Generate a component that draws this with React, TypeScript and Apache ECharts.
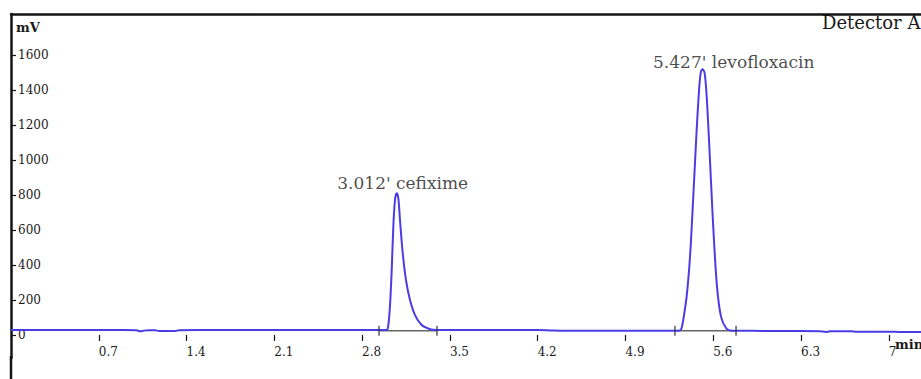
import React, { useEffect, useRef } from "react";
import * as echarts from "echarts";

// Chromatogram trace (retention time in min, detector signal in mV)
const TIME_MIN = [
  0, 0.3, 0.6, 0.9, 1.0, 1.03, 1.06, 1.1, 1.15, 1.18, 1.25, 1.31, 1.34, 1.5, 1.8, 2.1, 2.4, 2.7, 2.9, 2.996,
  3.008, 3.022, 3.036, 3.049, 3.062, 3.076, 3.089, 3.102, 3.124, 3.15, 3.182, 3.222, 3.275, 3.341, 3.395,
  3.6, 3.9, 4.2, 4.3, 4.4, 4.7, 4.95, 5.1, 5.3, 5.335,
  5.348, 5.361, 5.388, 5.415, 5.441, 5.468, 5.489, 5.502, 5.516, 5.532, 5.548, 5.569, 5.596, 5.628, 5.662, 5.707, 5.747,
  5.9, 6.1, 6.3, 6.45, 6.5, 6.53, 6.6, 6.7, 6.74, 6.8, 7.0, 7.1, 7.257,
];
const SIGNAL_MV = [
  28, 28, 28, 28, 27, 21, 25, 27, 27, 23, 23, 23, 27, 28, 28, 28, 28, 28, 28, 28,
  50, 162, 371, 619, 771, 810, 781, 657, 467, 314, 200, 114, 57, 33, 28,
  28, 28, 28, 26, 24, 24, 24, 25, 25, 26,
  40, 86, 219, 447, 790, 1171, 1419, 1505, 1518, 1495, 1362, 1076, 676, 295, 105, 35, 25,
  24, 23, 23, 22, 17, 21, 22, 22, 18, 19, 19, 17, 17,
];

const X_TICKS = [0.7, 1.4, 2.1, 2.8, 3.5, 4.2, 4.9, 5.6, 6.3, 7];
const Y_TICKS = [0, 200, 400, 600, 800, 1000, 1200, 1400, 1600];

// Peaks
const PEAK_NAMES = ["3.012' cefixime", "5.427' levofloxacin"];
const PEAK_TIMES = [3.076, 5.516];
const PEAK_HEIGHTS = [810, 1518];
const PEAK_LABEL_OFFSETS = [[6, 0], [31, 3]];

// Integration baselines
const INT_START_TIME = [2.935, 5.295];
const INT_END_TIME = [3.397, 5.782];
const INT_START_MV = [24, 25];
const INT_END_MV = [24, 24];

const SERIF = "DejaVu Serif";
const TRACE = "#4b3ce6";
const INK = "#141414";
const TEXT = "#1a1a1a";

export default function App() {
  const ref = useRef<HTMLDivElement>(null);

  useEffect(() => {
    if (!ref.current) return;
    const chart = echarts.init(ref.current, undefined, { renderer: "svg" });

    const trace = TIME_MIN.map((t, i) => [t, SIGNAL_MV[i]]);
    const intSeries = INT_START_TIME.map((s, i) => ({
      type: "line",
      data: [
        [s, INT_START_MV[i]],
        [INT_END_TIME[i], INT_END_MV[i]],
      ],
      symbol: "none",
      lineStyle: { color: "#666", width: 1.5 },
      z: 1,
    }));
    const markers: number[][] = [];
    INT_START_TIME.forEach((s, i) => {
      markers.push([s, INT_START_MV[i]]);
      markers.push([INT_END_TIME[i], INT_END_MV[i]]);
    });

    chart.setOption({
      animation: false,
      backgroundColor: "#ffffff",
      grid: { left: 11, right: 0, top: 14, bottom: 21, containLabel: false },
      xAxis: [
        {
          type: "value",
          min: 0,
          max: 7.257,
          position: "bottom",
          axisLine: { show: false },
          axisTick: {
            show: true,
            inside: false,
            length: 6,
            customValues: X_TICKS,
            lineStyle: { color: INK, width: 1.2 },
          },
          axisLabel: {
            show: true,
            inside: true,
            margin: 0,
            align: "left",
            customValues: X_TICKS,
            color: TEXT,
            fontFamily: SERIF,
            fontSize: 12,
            formatter: (v: number) => String(v),
          },
          splitLine: { show: false },
        },
        {
          type: "value",
          min: 0,
          max: 7.257,
          position: "top",
          axisLine: { show: true, lineStyle: { color: INK, width: 2.5 } },
          axisTick: { show: false },
          axisLabel: { show: false },
          splitLine: { show: false },
        },
      ],
      yAxis: {
        type: "value",
        min: -131.4,
        max: 1834,
        axisLine: { show: true, lineStyle: { color: INK, width: 2.5 } },
        axisTick: {
          show: true,
          inside: true,
          length: 5,
          customValues: Y_TICKS,
          lineStyle: { color: INK, width: 1.2 },
        },
        axisLabel: {
          show: true,
          inside: true,
          margin: 7,
          customValues: Y_TICKS,
          color: TEXT,
          fontFamily: SERIF,
          fontSize: 12,
          formatter: (v: number) => String(v),
        },
        splitLine: { show: false },
      },
      series: [
        {
          type: "line",
          name: "Detector A",
          data: trace,
          symbol: "none",
          smooth: 0.3,
          lineStyle: { color: TRACE, width: 2 },
          z: 3,
        },
        ...intSeries,
        {
          type: "scatter",
          data: markers,
          symbol: "rect",
          symbolSize: [1.5, 10],
          itemStyle: { color: "#333" },
          z: 4,
        },
        {
          type: "scatter",
          data: PEAK_TIMES.map((t, i) => ({
            value: [t, PEAK_HEIGHTS[i]],
            label: {
              show: true,
              position: "top",
              distance: 2,
              offset: PEAK_LABEL_OFFSETS[i],
              formatter: PEAK_NAMES[i],
              color: TEXT,
              fontFamily: SERIF,
              fontSize: 17,
            },
          })),
          symbolSize: 0,
          z: 5,
        },
      ],
      graphic: [
        {
          type: "line",
          shape: { x1: 11, y1: 356, x2: 11, y2: 379 },
          style: { stroke: INK, lineWidth: 2.5 },
        },
        {
          type: "text",
          x: 16,
          y: 27,
          style: {
            text: "mV",
            font: `bold 13px ${SERIF}`,
            fill: TEXT,
            align: "left",
            verticalAlign: "middle",
          },
        },
        {
          type: "text",
          x: 822,
          y: 22,
          style: {
            text: "Detector A",
            font: `18px ${SERIF}`,
            fill: TEXT,
            align: "left",
            verticalAlign: "middle",
          },
        },
        {
          type: "text",
          x: 895,
          y: 344,
          style: {
            text: "min",
            font: `bold 13px ${SERIF}`,
            fill: TEXT,
            align: "left",
            verticalAlign: "middle",
          },
        },
      ],
    });

    return () => chart.dispose();
  }, []);

  return (
    <div
      ref={ref}
      style={{ position: "absolute", left: 0, top: 0, width: 921, height: 379 }}
    />
  );
}
